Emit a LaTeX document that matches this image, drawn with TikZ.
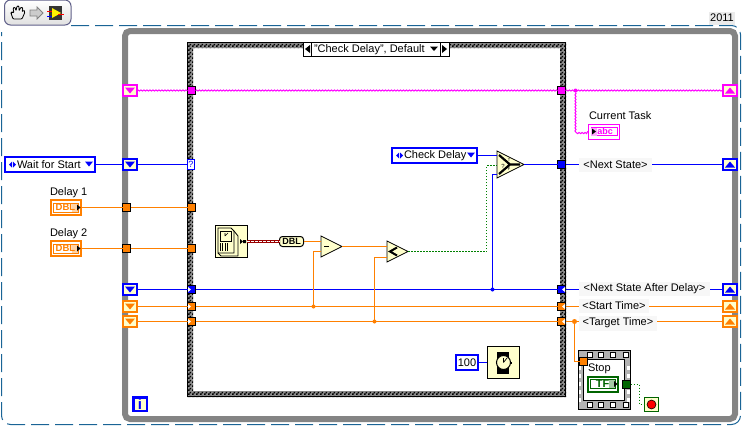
\documentclass[tikz,border=0pt]{standalone}
\usepackage{fontspec}
\setmainfont{Liberation Sans}
\usetikzlibrary{patterns,shapes.geometric,decorations.pathmorphing}
\definecolor{lvorange}{HTML}{FF8000}
\definecolor{lvblue}{HTML}{0000FF}
\definecolor{lvpink}{HTML}{FF00FF}
\definecolor{lvgreen}{HTML}{006400}
\definecolor{lvbool}{HTML}{008000}
\definecolor{lvcream}{HTML}{FFFFCC}
\definecolor{lvgray}{HTML}{848484}
\definecolor{lvdash}{HTML}{1A6496}
\pgfdeclarepatternformonly{lvchecker}{\pgfpointorigin}{\pgfqpoint{4pt}{4pt}}{\pgfqpoint{4pt}{4pt}}{%
  \pgfpathrectangle{\pgfpointorigin}{\pgfqpoint{2pt}{2pt}}%
  \pgfpathrectangle{\pgfqpoint{2pt}{2pt}}{\pgfqpoint{2pt}{2pt}}%
  \pgfusepath{fill}}
\tikzset{
  every node/.style={inner sep=0pt,outer sep=0pt,font=\fontsize{11}{13}\selectfont},
  shiftbox/.style={draw,line width=2pt,fill=lvcream,minimum width=14pt,minimum height=11pt},
  tunnelbox/.style={draw=black,line width=1pt,minimum size=8pt},
  ringbox/.style={draw=lvblue,line width=2pt,fill=white},
  wireorange/.style={draw=lvorange,line width=1.2pt},
  wireblue/.style={draw=lvblue,line width=1.2pt},
  wirepink/.style={draw=lvpink,line width=1pt,decorate,decoration={snake,amplitude=.6pt,segment length=3pt}},
  wirebool/.style={draw=lvbool,line width=1.2pt,dash pattern=on 1.5pt off 1.5pt},
  wirelabel/.style={fill=black!3,minimum height=14pt},
  junction/.style={circle,minimum size=4pt},
  lvfunc/.style={draw=black,line width=.8pt,fill=lvcream},
  lvtri/.style={isosceles triangle,isosceles triangle stretches,shape border rotate=0,
    draw=black,line width=.8pt,fill=lvcream,anchor=lower side,minimum width=#1,minimum height=#1},
  indtext/.style={font=\fontsize{9.5}{10}\selectfont\bfseries},
}
% register on the loop: name, x, y, colour, +1 down / -1 up
\newcommand{\shiftreg}[5]{%
  \node[shiftbox,draw=#4] (#1) at (#2,#3) {};
  \fill[#4] (#2-5,#3-3*#5) -- (#2+5,#3-3*#5) -- (#2,#3+3*#5) -- cycle;
}
% tunnel: name, x, y, colour
\newcommand{\tunnel}[4]{\node[tunnelbox,fill=#4] (#1) at (#2,#3) {};}
\newcommand{\notchtun}[5]{%
  \tunnel{#1}{#2}{#3}{#4}
  \fill[white] (#2+3.5*#5,#3-2.5) -- (#2+3.5*#5,#3+2.5) -- (#2+.5*#5,#3) -- cycle;
}
% ring constant: name, x1, y1, x2, y2, text
\newcommand{\ringctl}[6]{%
  \node[ringbox,minimum width=#4-#2-2,minimum height=#5-#3-2] (#1) at ({(#2+#4)/2},{(#3+#5)/2}) {};
  \fill[lvblue] (#2+8,{(#3+#5)/2-3}) -- (#2+8,{(#3+#5)/2+3}) -- (#2+5,{(#3+#5)/2}) -- cycle;
  \fill[lvblue] (#2+9,{(#3+#5)/2-3}) -- (#2+9,{(#3+#5)/2+3}) -- (#2+12,{(#3+#5)/2}) -- cycle;
  \fill[lvblue] (#4-11,{(#3+#5)/2-3}) -- (#4-3,{(#3+#5)/2-3}) -- (#4-7,{(#3+#5)/2+2}) -- cycle;
  \node[anchor=west] (#1text) at (#2+13,{(#3+#5)/2}) {#6};
}
% indicator: name, x1, y1, colour, text
\newcommand{\numind}[5]{%
  \node[draw=#4,line width=2pt,fill=white,minimum width=30pt,minimum height=15pt] (#1) at (#2+16,#3+8) {};
  \fill[#4!35] (#2+22,#3+3) rectangle (#2+28,#3+13);
  \draw[#4,line width=.8pt] (#2+3.5,#3+3.5) rectangle (#2+28,#3+12.5);
  \node[indtext,text=#4] (#1text) at (#2+15.5,#3+8) {#5};
  \fill[black] (#2+27,#3+5) -- (#2+27,#3+11) -- (#2+30.5,#3+8) -- cycle;
}
\begin{document}
\begin{tikzpicture}[x=1pt,y=-1pt]
  \useasboundingbox (0,0) rectangle (742,426);
  % toolbar
  \draw[draw=black!35!blue!25!gray,line width=1pt,top color=white,bottom color=black!12,rounded corners=6]
    (4.5,25) -- (4.5,0) -- (71,0) -- (71,25) -- cycle;
  \draw[line width=.8pt,rounded corners=1] (13,19) -- (11,13) -- (12,12) -- (14,13) -- (13,8) -- (15,7) -- (16,11)
    -- (17,6) -- (19,6) -- (19,11) -- (21,7) -- (23,8) -- (22,12) -- (24,10) -- (25,12) -- (22,19) -- cycle;
  \draw[draw=black!50,fill=black!20,line width=.8pt] (30,10) -- (37,10) -- (37,7) -- (43,13) -- (37,19) -- (37,16) -- (30,16) -- cycle;
  \fill[black!80] (49,6) rectangle (62,20);
  \fill[yellow] (52,8) -- (61,13) -- (52,18) -- cycle;
  \draw[red,line width=.8pt] (47,11) -- (52,11) (58,14) -- (64,14);
  \draw[lvblue,line width=.8pt] (47,16) -- (52,16);
  % dashed frame
  \draw[lvdash,line width=1pt,dash pattern=on 18pt off 6pt,rounded corners=9]
    (71,25.5) -- (740.5,25.5) -- (740.5,424.5) -- (1.5,424.5) -- (1.5,32);
  \node[fill=black!8,minimum width=26pt,minimum height=13pt] (yearlabel) at (722,18) {2011};
  % while loop
  \draw[lvgray,line width=6pt,rounded corners=5] (125,31) rectangle (735,419);
  % case structure
  \fill[white] (187,42) rectangle (566,397);
  \fill[black!45,even odd rule] (187,42) rectangle (566,397) (193,48) rectangle (560,391);
  \path[pattern=lvchecker,even odd rule] (187,42) rectangle (566,397) (193,48) rectangle (560,391);
  \draw[line width=1pt] (187.5,396.5) -- (187.5,42.5) -- (565.5,42.5) -- (565.5,396.5) -- cycle;
  \node[draw=black,line width=1pt,fill=white,minimum width=146pt,minimum height=14pt] (selector) at (376,49) {};
  \draw[line width=1pt] (311,42) -- (311,56) (440,42) -- (440,56);
  \fill (310,45) -- (310,53) -- (305,49) -- cycle;
  \fill (442,45) -- (442,53) -- (447,49) -- cycle;
  \fill (430,46.5) -- (438,46.5) -- (434,51) -- cycle;
  \node[anchor=west] (selectortext) at (314,49.5) {"Check Delay", Default};

  % registers and tunnels
  \shiftreg{srpinkl}{130}{90.5}{lvpink}{1}
  \shiftreg{srbluel}{130}{164.5}{lvblue}{1}
  \shiftreg{srnextl}{130}{289.5}{lvblue}{1}
  \shiftreg{srstartl}{130}{306.5}{lvorange}{1}
  \shiftreg{srtargetl}{130}{321.5}{lvorange}{1}
  \shiftreg{srpinkr}{730}{90.5}{lvpink}{-1}
  \shiftreg{srbluer}{730}{164.5}{lvblue}{-1}
  \shiftreg{srnextr}{730}{289.5}{lvblue}{-1}
  \shiftreg{srstartr}{730}{306.5}{lvorange}{-1}
  \shiftreg{srtargetr}{730}{321.5}{lvorange}{-1}
  \tunnel{tundelayA}{126.5}{207.5}{lvorange}
  \tunnel{tundelayB}{126.5}{248.5}{lvorange}
  \tunnel{casedelayA}{191.5}{207.5}{lvorange}
  \tunnel{casedelayB}{191.5}{248.5}{lvorange}
  \tunnel{casepinkl}{191.5}{90.5}{lvpink}
  \tunnel{casepinkr}{561.5}{90.5}{lvpink}
  \tunnel{casebluer}{561.5}{164.5}{lvblue}
  \notchtun{casenextl}{191.5}{289.5}{lvblue}{-1}
  \notchtun{casestartl}{191.5}{306.5}{lvorange}{-1}
  \notchtun{casetargetl}{191.5}{321.5}{lvorange}{-1}
  \notchtun{casenextr}{561.5}{289.5}{lvblue}{1}
  \notchtun{casestartr}{561.5}{306.5}{lvorange}{1}
  \notchtun{casetargetr}{561.5}{321.5}{lvorange}{1}
  \node[draw=lvblue,line width=1pt,fill=white,text=lvblue,minimum width=7pt,minimum height=10pt,font=\fontsize{9}{9}\selectfont] (caseq) at (191,164.5) {?};

  % front panel terminals
  \ringctl{waitstart}{4}{156}{96}{173}{Wait for Start}
  \node[anchor=west] (labdelayA) at (50,192.5) {Delay 1};
  \node[anchor=west] (labdelayB) at (50,233.5) {Delay 2};
  \numind{delayA}{50}{199.5}{lvorange}{DBL}
  \numind{delayB}{50}{240.5}{lvorange}{DBL}
  \ringctl{checkdelay}{391}{147}{478}{164}{Check Delay}

  % time function
  \node[lvfunc,minimum width=32pt,minimum height=32pt] (timeicon) at (231,241.5) {};
  \draw[line width=.8pt] (218,228) -- (231,228) -- (234,231) -- (234,253) -- (218,253) -- cycle;
  \draw[line width=.8pt] (234,231) -- (238,236) -- (238,256) (218,253) -- (221,256) -- (238,256);
  \draw[line width=.8pt] (220,231) rectangle (231,241);
  \draw[line width=.6pt] (225,236) -- (225,233) (225,236) -- (228,233);
  \draw[line width=.7pt,step=2.5] (219,243) grid (229,251);
  \fill (240,239) -- (240,244) -- (243,241.5) -- cycle (243,240) rectangle (246,243);
  \node[draw=black,line width=1pt,fill=lvcream,rounded corners=3,minimum width=24pt,minimum height=10pt,font=\fontsize{9}{9}\selectfont\bfseries] (todbl) at (291.5,241.5) {DBL};
  \draw[draw=red!60!black,line width=3pt] (timeicon) -- (todbl);
  \draw[draw=white,line width=1pt,dash pattern=on 3pt off 1pt] (timeicon) -- (todbl);

  % subtract, compare, select
  \node[lvtri=21pt] (subtract) at (321,246.5) {};
  \draw[line width=1pt] (324,246.5) -- (329,246.5);
  \node[lvtri=21pt] (compare) at (387,251.5) {};
  \draw[line width=2pt] (397,247.5) -- (390,251.5) -- (397,255.5);
  \node[lvtri=27pt] (selectfn) at (497,164.5) {};
  \draw[line width=2.2pt] (499,155) -- (510,164.5) -- (499,174) (510,164.5) -- (520,164.5);
  \node[font=\fontsize{6}{6}\selectfont] (selq) at (503,166) {?};
  \node[font=\fontsize{4}{4}\selectfont] (selt) at (509,160) {T};
  \node[font=\fontsize{4}{4}\selectfont] (self) at (509,169) {F};

  % right side labels
  \node[anchor=west,font=\fontsize{11}{13}\selectfont] (curtasklab) at (589,116) {Current Task};
  \node[draw=lvpink,line width=1pt,fill=white,minimum width=31pt,minimum height=15pt] (curtask) at (604,131.5) {};
  \draw[lvpink,line width=.8pt] (591,127.5) rectangle (617,135.5);
  \fill[lvpink!35] (591,127.5) rectangle (597,135.5);
  \fill (592,128.5) -- (592,134.5) -- (596,131.5) -- cycle;
  \node[font=\fontsize{9}{9}\selectfont\bfseries,text=lvpink] (curtasktext) at (605,131) {abc};
  \node[wirelabel,minimum width=73pt] (labnext) at (615.5,164.5) {<Next State>};
  \node[wirelabel,minimum width=131pt] (labafter) at (644.5,289) {<Next State After Delay>};
  \node[wirelabel,minimum width=70pt] (labstart) at (614,306) {<Start Time>};
  \node[wirelabel,minimum width=78pt,minimum height=15pt] (labtarget) at (618,323) {<Target Time>};

  % stop frame
  \fill[black!30] (578,350) rectangle (630,409);
  \draw[line width=.8pt] (578,350) rectangle (630,409);
  \foreach \x in {590,601,613,626} {
    \draw[draw=black,fill=white,line width=.6pt] (\x-2.5,352.5) rectangle (\x+2.5,357);
    \draw[draw=black,fill=white,line width=.6pt] (\x-2.5,402.5) rectangle (\x+2.5,407);
  }
  \foreach \y in {368,376,384,392,400} {
    \fill[white] (578.5,\y-2) rectangle (581,\y+2);
    \fill[white] (627,\y-2) rectangle (629.5,\y+2);
  }
  \node[draw=black,line width=1pt,fill=white,minimum width=41pt,minimum height=41pt] (stopinner) at (604,380) {};
  \node[anchor=west] (stoplab) at (588,369) {Stop};
  \numind{stopind}{587}{376}{lvgreen}{\fontsize{11}{11}\selectfont TF}
  \tunnel{tunloop}{583.5}{361.5}{lvorange}
  \tunnel{tunstop}{626.5}{384.5}{lvgreen}
  \node[draw=lvgreen,line width=1pt,fill=lvcream,minimum size=14pt] (stopbtn) at (651.5,404.5) {};
  \node[circle,draw=black,fill=red,line width=.6pt,minimum size=9pt] (stoplamp) at (651.5,404.5) {};

  % wait
  \node[draw=lvblue,line width=2pt,fill=white,minimum width=22pt,minimum height=15pt] (waitms) at (467,362.5) {100};
  \node[lvfunc,minimum width=32pt,minimum height=32pt] (waiticon) at (503,362.5) {};
  \fill (497,351.5) rectangle (509,373.5);
  \fill (510,361.5) rectangle (512,363.5);
  \node[circle,draw=black,fill=lvcream,line width=1pt,minimum size=14pt] (waitface) at (503.5,362.5) {};
  \draw[line width=.7pt] (503.5,362.5) -- (503.5,358) (503.5,362.5) -- (507,358);

  % info terminal
  \node[draw=lvblue,line width=2.5pt,fill=lvcream,text=lvblue,minimum width=13.5pt,minimum height=13.5pt,font=\fontsize{15}{15}\selectfont\bfseries] (iternum) at (140,404) {i};

  % wire junctions and bends
  \node[junction,fill=lvpink] (jpink) at (575.5,90.5) {};
  \node[junction,fill=lvblue] (jnext) at (492.5,289.5) {};
  \node[junction,fill=lvorange] (jstart) at (313.5,306.5) {};
  \node[junction,fill=lvorange] (jtarget) at (374.5,321.5) {};
  \node[junction,fill=lvorange,minimum size=5pt] (jstop) at (574.5,321.5) {};
  \coordinate (subinA) at (321,241.5);
  \coordinate (subinB) at (321,251.5);
  \coordinate (cmpinA) at (387,246.5);
  \coordinate (cmpinB) at (387,257.5);
  \coordinate (selinA) at (497,155.5);
  \coordinate (selinB) at (497,165.5);
  \coordinate (selinC) at (497,174.5);
  \coordinate (subout) at (342,246.5);
  \coordinate (cmpout) at (408,251.5);
  \coordinate (selout) at (524,164.5);

  % wires
  \draw[wirepink] (srpinkl.east) -- (casepinkl.west);
  \draw[wirepink] (casepinkl.east) -- (casepinkr.west);
  \draw[wirepink] (casepinkr.east) -- (srpinkr.west);
  \draw[wirepink] (jpink) -- (575.5,131.5) -- (curtask.west);
  \draw[wireblue] (waitstart) -- (srbluel);
  \draw[wireblue] (srbluel) -- (caseq);
  \draw[wireorange] (delayA) -- (tundelayA);
  \draw[wireorange] (tundelayA) -- (casedelayA);
  \draw[wireorange] (delayB) -- (tundelayB);
  \draw[wireorange] (tundelayB) -- (casedelayB);
  \draw[wireblue] (srnextl) -- (casenextl);
  \draw[wireorange] (srstartl) -- (casestartl);
  \draw[wireorange] (srtargetl) -- (casetargetl);
  \draw[wireblue] (casenextl) -- (casenextr);
  \draw[wireorange] (casestartl) -- (casestartr);
  \draw[wireorange] (casetargetl) -- (casetargetr);
  \draw[wireblue] (casebluer) -- (labnext);
  \draw[wireblue] (selout) -- (casebluer);
  \draw[wireblue] (labnext) -- (srbluer);
  \draw[wireblue] (casenextr) -- (labafter.west |- casenextr);
  \draw[wireblue] (labafter.east |- srnextr) -- (srnextr);
  \draw[wireorange] (casestartr) -- (labstart.west |- casestartr);
  \draw[wireorange] (labstart.east |- srstartr) -- (srstartr);
  \draw[wireorange] (casetargetr) -- (labtarget.west |- casetargetr);
  \draw[wireorange] (labtarget.east |- srtargetr) -- (srtargetr);
  \draw[wireorange] (todbl) -- (subinA);
  \draw[wireorange] (subout) -- (cmpinA);
  \draw[wireorange] (jstart) -- (313.5,251.5) -- (subinB);
  \draw[wireorange] (jtarget) -- (374.5,257.5) -- (cmpinB);
  \draw[wirebool] (cmpout) -- (486.5,251.5) -- (486.5,165.5) -- (selinB);
  \draw[wireblue] (checkdelay) -- (selinA);
  \draw[wireblue] (jnext) -- (492.5,174.5) -- (selinC);
  \draw[wireorange] (jstop) -- (574.5,361.5) -- (tunloop);
  \draw[wirebool] (tunstop) -- (639.5,384.5) -- (639.5,404.5) -- (stopbtn);
  \draw[wireblue] (waitms) -- (waiticon);
\end{tikzpicture}
\end{document}
